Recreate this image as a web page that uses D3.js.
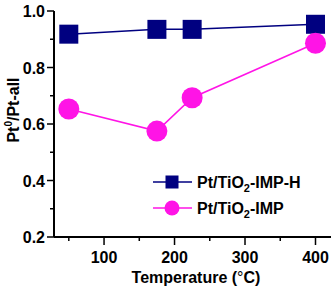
<!DOCTYPE html>
<html><head><meta charset="utf-8">
<script src="https://cdn.jsdelivr.net/npm/d3@7"></script>
<style>body{margin:0;background:#fff}svg{display:block}text{font-family:Arial,"Liberation Sans",sans-serif;font-weight:bold}</style>
</head><body><svg id="c" width="331" height="291"></svg>
<script>
const temps = [50, 175, 225, 400];
const impH = [0.918, 0.935, 0.935, 0.953];
const imp = [0.653, 0.575, 0.693, 0.886];
const xTicks = [100, 200, 300, 400];
const yTicks = [0.2, 0.4, 0.6, 0.8, 1.0];
const seriesNames = ["Pt/TiO|2|-IMP-H", "Pt/TiO|2|-IMP"];
const navy = "#000080", pink = "#ff14e6";

const svg = d3.select("#c");
const x = d3.scaleLinear().domain([29, 422]).range([54, 331]);
const y = d3.scaleLinear().domain([0.2, 1.0]).range([237, 11]);

const xMinor = [50,150,250,350];
const yMinor = [0.3,0.5,0.7,0.9];
const g = svg.append("g");
g.selectAll(".xm").data(xMinor).join("line").attr("x1",d=>x(d)).attr("x2",d=>x(d)).attr("y1",237).attr("y2",241).attr("stroke","#000").attr("stroke-width",1.5);
g.selectAll(".xM").data(xTicks).join("line").attr("x1",d=>x(d)).attr("x2",d=>x(d)).attr("y1",237).attr("y2",245).attr("stroke","#000").attr("stroke-width",1.5);
g.selectAll(".ym").data(yMinor).join("line").attr("x1",50).attr("x2",54).attr("y1",d=>y(d)).attr("y2",d=>y(d)).attr("stroke","#000").attr("stroke-width",1.5);
g.selectAll(".yM").data(yTicks).join("line").attr("x1",47).attr("x2",54).attr("y1",d=>y(d)).attr("y2",d=>y(d)).attr("stroke","#000").attr("stroke-width",1.5);
g.append("line").attr("x1",54).attr("x2",54).attr("y1",y(1.0)).attr("y2",237).attr("stroke","#000").attr("stroke-width",2);
g.append("line").attr("x1",54).attr("x2",331).attr("y1",237).attr("y2",237).attr("stroke","#000").attr("stroke-width",2);

g.selectAll(".xl").data(xTicks).join("text").attr("x",d=>x(d)).attr("y",263).attr("text-anchor","middle").attr("font-size",16).text(d=>d);
g.selectAll(".yl").data(yTicks).join("text").attr("x",45).attr("y",d=>y(d)+6).attr("text-anchor","end").attr("font-size",16).text(d=>d.toFixed(1));

const xt = svg.append("text").attr("x",196).attr("y",283).attr("text-anchor","middle").attr("font-size",16);
xt.append("tspan").text("Temperature (");
xt.append("tspan").attr("font-weight","normal").text("°");
xt.append("tspan").text("C)");
const yt = svg.append("text").attr("transform","translate(19,110) rotate(-90)").attr("text-anchor","middle").attr("font-size",16);
yt.append("tspan").text("Pt");
yt.append("tspan").attr("font-size",10).attr("dy",-7).text("0");
yt.append("tspan").attr("dy",7).text("/Pt-all");

const line = d3.line().x((d,i)=>x(temps[i])).y(d=>y(d));
svg.append("path").attr("d",line(impH)).attr("fill","none").attr("stroke",navy).attr("stroke-width",1.5);
svg.append("path").attr("d",line(imp)).attr("fill","none").attr("stroke",pink).attr("stroke-width",1.5);
const sq = 19;
svg.selectAll(".sq").data(impH).join("rect").attr("x",(d,i)=>x(temps[i])-sq/2).attr("y",d=>y(d)-sq/2).attr("width",sq).attr("height",sq).attr("fill",navy);
svg.selectAll(".ci").data(imp).join("circle").attr("cx",(d,i)=>x(temps[i])).attr("cy",d=>y(d)).attr("r",10.5).attr("fill",pink);

const leg = [{c:navy,s:"sq",yy:182},{c:pink,s:"ci",yy:208}];
leg.forEach((l,i)=>{
  svg.append("line").attr("x1",153).attr("x2",192).attr("y1",l.yy).attr("y2",l.yy).attr("stroke",l.c).attr("stroke-width",1.5);
  if(l.s==="sq") svg.append("rect").attr("x",172-6.5).attr("y",l.yy-6.5).attr("width",13).attr("height",13).attr("fill",l.c);
  else svg.append("circle").attr("cx",172).attr("cy",l.yy).attr("r",7.5).attr("fill",l.c);
  const parts = seriesNames[i].split("|");
  const t = svg.append("text").attr("x",197).attr("y",l.yy+6).attr("font-size",16);
  t.append("tspan").text(parts[0]);
  t.append("tspan").attr("font-size",11).attr("dy",4).text(parts[1]);
  t.append("tspan").attr("dy",-4).text(parts[2]);
});
</script></body></html>
